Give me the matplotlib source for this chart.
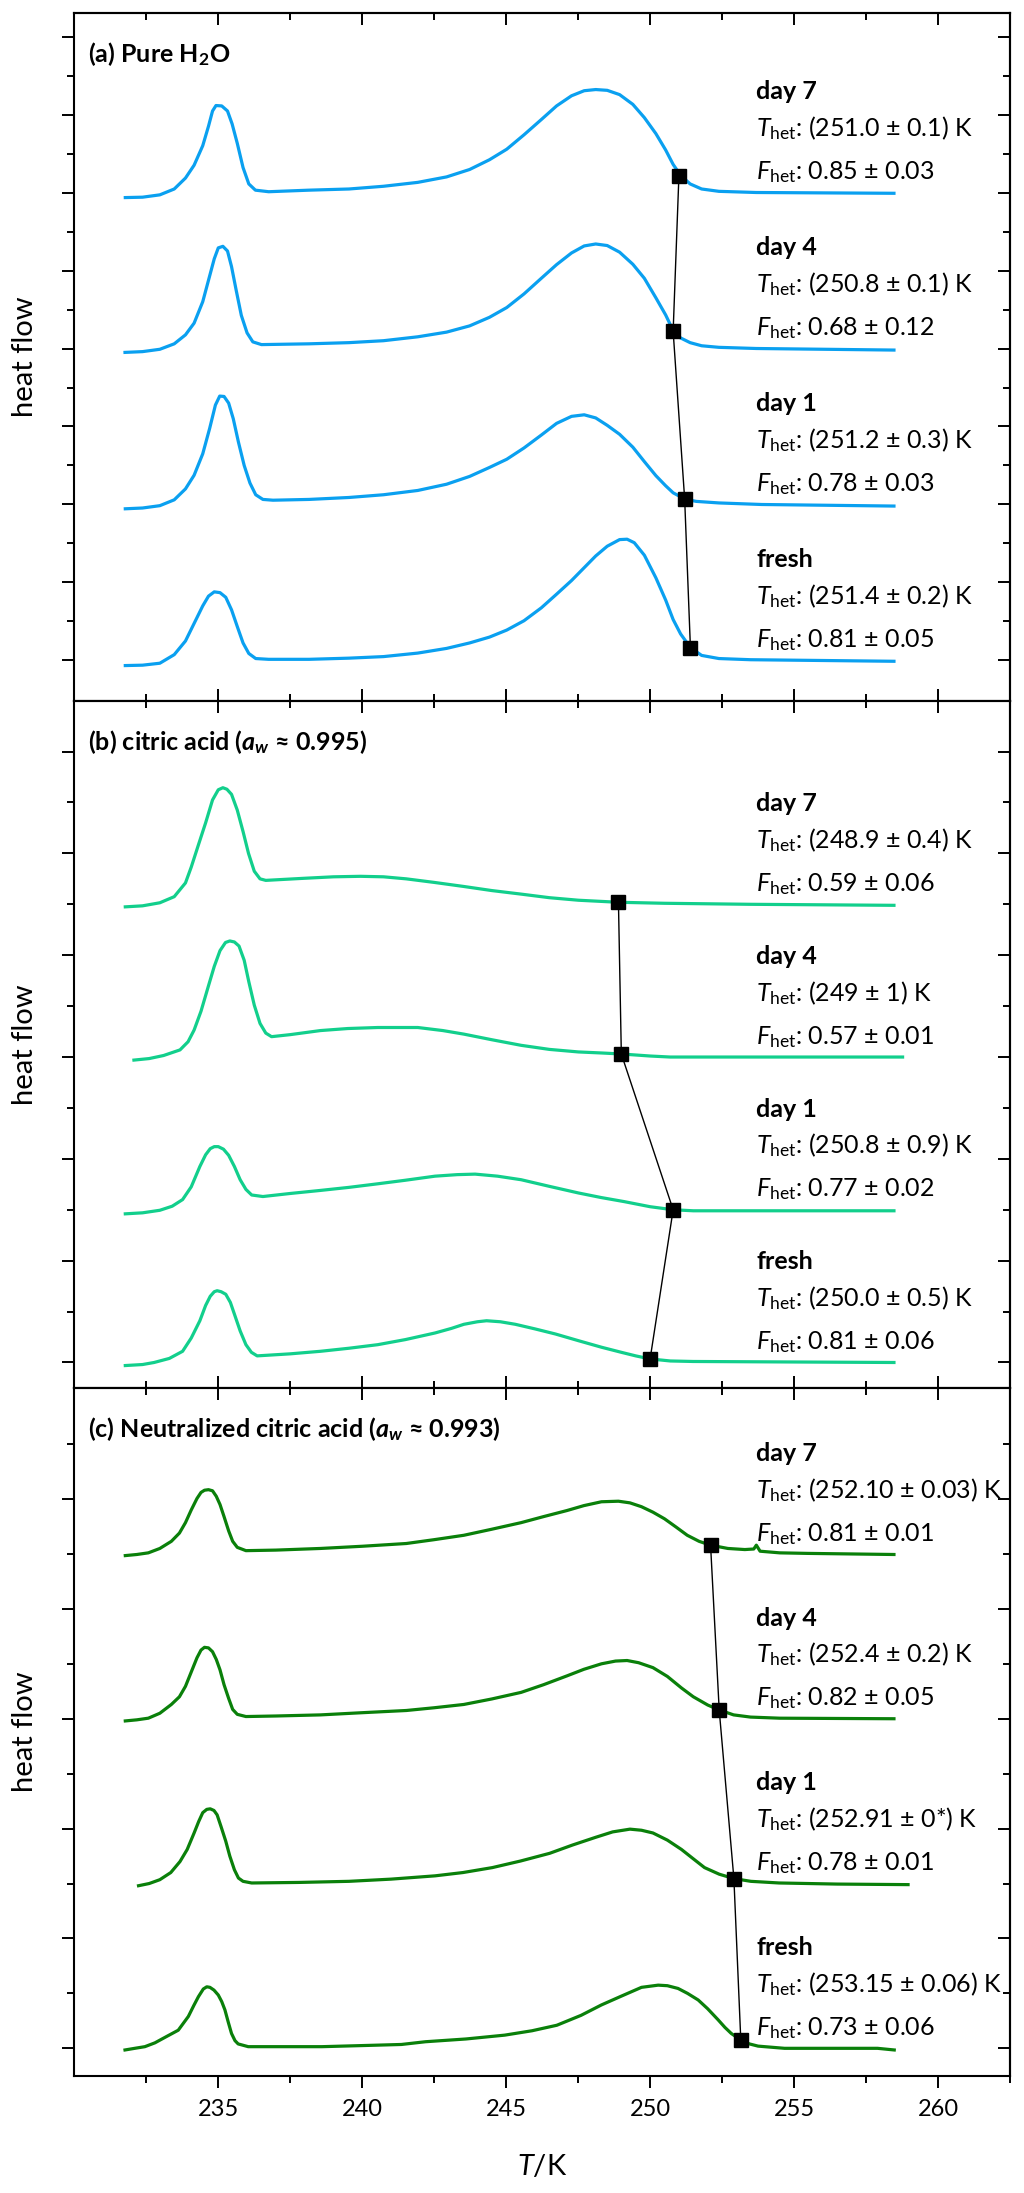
import matplotlib
matplotlib.use('Agg')
import matplotlib.pyplot as plt
from matplotlib.ticker import FixedLocator, NullFormatter

plt.rcParams['font.family'] = ['Lato', 'DejaVu Sans']
plt.rcParams['mathtext.fontset'] = 'custom'
plt.rcParams['mathtext.rm'] = 'Lato'
plt.rcParams['mathtext.it'] = 'Lato:italic'
plt.rcParams['mathtext.bf'] = 'Lato:bold'
plt.rcParams['mathtext.bfit'] = 'Lato:bold:italic'

# ---- data (heat flow in tick units, curves stacked) ----
labels = ['day 7', 'day 4', 'day 1', 'fresh']

# (a) pure water
a7_T = [231.77, 232.37, 232.97, 233.47, 233.86, 234.16, 234.46, 234.66, 234.8, 234.92, 235.12, 235.32,
        235.48, 235.66, 235.86, 236.06, 236.29, 236.75, 238.15, 239.54, 240.74, 241.93, 242.93, 243.73,
        244.42, 245.02, 245.62, 246.22, 246.75, 247.27, 247.71, 248.11, 248.51, 248.94, 249.4, 249.8,
        250.2, 250.54, 250.8, 251.06, 251.39, 251.79, 252.39, 253.69, 258.47]
a7_hf = [11.87, 11.88, 11.94, 12.09, 12.37, 12.7, 13.2, 13.7, 14.09, 14.23, 14.22, 14.09,
         13.76, 13.26, 12.64, 12.22, 12.06, 12.02, 12.06, 12.09, 12.16, 12.26, 12.4, 12.59,
         12.84, 13.11, 13.48, 13.87, 14.22, 14.48, 14.61, 14.64, 14.62, 14.51, 14.26, 13.92,
         13.51, 13.09, 12.72, 12.44, 12.22, 12.09, 12.03, 12.0, 11.98]
a4_T = [231.76, 232.37, 232.97, 233.47, 233.86, 234.16, 234.46, 234.66, 234.86, 235.0, 235.16, 235.32,
        235.46, 235.62, 235.8, 236.0, 236.2, 236.5, 238.15, 239.54, 240.74, 241.93, 242.93, 243.73,
        244.42, 245.02, 245.62, 246.22, 246.75, 247.27, 247.71, 248.11, 248.51, 248.94, 249.4, 249.8,
        250.2, 250.54, 250.8, 251.06, 251.39, 251.79, 252.39, 253.69, 258.47]
a4_hf = [7.9, 7.92, 7.98, 8.12, 8.35, 8.65, 9.2, 9.75, 10.3, 10.58, 10.62, 10.5,
         10.1, 9.5, 8.85, 8.4, 8.17, 8.1, 8.12, 8.15, 8.2, 8.3, 8.42, 8.58,
         8.8, 9.05, 9.4, 9.8, 10.15, 10.45, 10.63, 10.68, 10.64, 10.47, 10.16, 9.8,
         9.3, 8.86, 8.46, 8.27, 8.15, 8.07, 8.03, 8.0, 7.96]
a1_T = [231.77, 232.37, 232.97, 233.47, 233.86, 234.16, 234.46, 234.7, 234.9, 235.05, 235.2, 235.36,
        235.52, 235.7, 235.9, 236.1, 236.3, 236.55, 236.9, 238.15, 239.54, 240.74, 241.93, 242.93,
        243.73, 244.42, 245.02, 245.62, 246.22, 246.75, 247.27, 247.71, 248.11, 248.51, 248.94, 249.4,
        249.8, 250.2, 250.54, 250.8, 251.2, 251.6, 252.39, 253.88, 258.47]
a1_hf = [3.89, 3.91, 3.97, 4.12, 4.4, 4.75, 5.3, 5.95, 6.55, 6.78, 6.77, 6.6,
         6.2, 5.6, 5.0, 4.55, 4.25, 4.13, 4.11, 4.13, 4.18, 4.25, 4.36, 4.52,
         4.72, 4.95, 5.16, 5.45, 5.78, 6.08, 6.26, 6.3, 6.22, 6.03, 5.8, 5.47,
         5.1, 4.74, 4.48, 4.3, 4.14, 4.08, 4.04, 4.0, 3.96]
a0_T = [231.77, 232.37, 232.97, 233.47, 233.86, 234.16, 234.46, 234.66, 234.86, 235.06, 235.26, 235.46,
        235.66, 235.86, 236.06, 236.3, 236.75, 238.15, 239.54, 240.74, 241.93, 242.93, 243.73, 244.42,
        245.02, 245.62, 246.22, 246.75, 247.27, 247.71, 248.11, 248.51, 248.94, 249.2, 249.45, 249.8,
        250.2, 250.54, 250.8, 251.06, 251.4, 251.79, 252.39, 253.49, 258.47]
a0_hf = [-0.13, -0.12, -0.07, 0.15, 0.5, 0.95, 1.4, 1.65, 1.76, 1.74, 1.62, 1.3,
         0.87, 0.45, 0.18, 0.05, 0.03, 0.03, 0.06, 0.1, 0.19, 0.31, 0.45, 0.6,
         0.78, 1.02, 1.35, 1.7, 2.05, 2.38, 2.68, 2.93, 3.1, 3.11, 3.02, 2.7,
         2.12, 1.55, 1.05, 0.68, 0.33, 0.13, 0.05, 0.02, -0.02]
a_Thet = [251.0, 250.8, 251.2, 251.4]
a_mark = [12.42, 8.44, 4.14, 0.33]
a_base = [12, 8, 4, 0]
a_Ttxt = ['(251.0 ± 0.1) K', '(250.8 ± 0.1) K', '(251.2 ± 0.3) K', '(251.4 ± 0.2) K']
a_Ftxt = ['0.85 ± 0.03', '0.68 ± 0.12', '0.78 ± 0.03', '0.81 ± 0.05']

# (b) citric acid
b7_T = [231.77, 232.37, 232.97, 233.47, 233.86, 234.06, 234.3, 234.56, 234.8, 235.0, 235.16, 235.3,
        235.46, 235.66, 235.86, 236.05, 236.25, 236.45, 236.65, 237.95, 239.0, 239.94, 240.74, 241.53,
        242.5, 243.53, 244.5, 245.52, 246.5, 247.51, 248.2, 248.9, 250.5, 253.49, 258.47]
b7_hf = [8.95, 8.97, 9.03, 9.15, 9.42, 9.73, 10.15, 10.6, 11.05, 11.25, 11.29, 11.26,
         11.16, 10.85, 10.43, 10.0, 9.65, 9.5, 9.47, 9.51, 9.54, 9.55, 9.54, 9.5,
         9.43, 9.35, 9.27, 9.2, 9.13, 9.08, 9.06, 9.04, 9.02, 9.0, 8.98]
b4_T = [232.07, 232.6, 233.1, 233.67, 233.95, 234.16, 234.4, 234.66, 234.86, 235.06, 235.25, 235.4,
        235.56, 235.72, 235.9, 236.06, 236.25, 236.45, 236.65, 236.85, 237.5, 238.55, 239.5, 240.54,
        241.93, 242.8, 243.53, 244.5, 245.52, 246.5, 247.51, 248.3, 249.0, 250.0, 250.7, 258.77]
b4_hf = [5.94, 5.97, 6.03, 6.14, 6.3, 6.53, 6.9, 7.4, 7.78, 8.09, 8.25, 8.28,
         8.26, 8.18, 7.9, 7.48, 7.02, 6.66, 6.47, 6.4, 6.44, 6.52, 6.56, 6.58,
         6.58, 6.52, 6.45, 6.34, 6.23, 6.15, 6.1, 6.08, 6.06, 6.02, 6.0, 6.0]
b1_T = [231.77, 232.37, 232.97, 233.4, 233.76, 234.06, 234.36, 234.56, 234.72, 234.86, 235.0, 235.18,
        235.36, 235.56, 235.76, 235.96, 236.16, 236.55, 237.5, 238.55, 239.54, 240.54, 241.5, 242.53,
        243.3, 243.92, 244.7, 245.52, 246.5, 247.51, 248.3, 249.1, 250.0, 250.8, 251.5, 253.49, 258.47]
b1_hf = [2.92, 2.94, 2.99, 3.07, 3.2, 3.45, 3.85, 4.08, 4.2, 4.24, 4.24, 4.19,
         4.07, 3.85, 3.59, 3.4, 3.29, 3.26, 3.32, 3.38, 3.44, 3.51, 3.58, 3.66,
         3.69, 3.7, 3.66, 3.59, 3.46, 3.33, 3.24, 3.16, 3.06, 3.0, 2.98, 2.98, 2.98]
b0_T = [231.77, 232.37, 232.77, 233.3, 233.76, 234.06, 234.36, 234.56, 234.72, 234.86, 234.96, 235.1,
        235.26, 235.42, 235.56, 235.76, 235.96, 236.15, 236.35, 237.5, 238.55, 239.54, 240.54, 241.5,
        242.53, 243.1, 243.53, 244.0, 244.32, 244.8, 245.32, 246.0, 246.71, 247.5, 248.31, 249.0,
        249.5, 250.0, 250.7, 251.49, 258.47]
b0_hf = [-0.06, -0.04, 0.0, 0.08, 0.22, 0.48, 0.82, 1.12, 1.3, 1.39, 1.41, 1.39,
         1.34, 1.18, 0.95, 0.62, 0.35, 0.2, 0.13, 0.17, 0.22, 0.28, 0.35, 0.45,
         0.58, 0.67, 0.75, 0.8, 0.82, 0.8, 0.75, 0.66, 0.56, 0.43, 0.3, 0.2,
         0.13, 0.07, 0.03, 0.02, 0.0]
b_Thet = [248.9, 249.0, 250.8, 250.0]
b_mark = [9.04, 6.06, 3.0, 0.07]
b_base = [9, 6, 3, 0]
b_Ttxt = ['(248.9 ± 0.4) K', '(249 ± 1) K', '(250.8 ± 0.9) K', '(250.0 ± 0.5) K']
b_Ftxt = ['0.59 ± 0.06', '0.57 ± 0.01', '0.77 ± 0.02', '0.81 ± 0.06']

# (c) neutralized citric acid
c7_T = [231.77, 232.17, 232.57, 232.97, 233.37, 233.65, 233.86, 234.06, 234.26, 234.4, 234.52, 234.66,
        234.8, 234.93, 235.06, 235.2, 235.36, 235.5, 235.66, 235.96, 237.0, 238.55, 240.0, 241.53,
        242.5, 243.53, 244.5, 245.52, 246.3, 247.11, 247.7, 248.31, 248.9, 249.3, 249.7, 250.1,
        250.5, 250.9, 251.29, 251.7, 252.1, 252.7, 253.29, 253.6, 253.69, 253.82, 254.5, 255.48, 258.47]
c7_hf = [8.97, 8.99, 9.02, 9.1, 9.23, 9.38, 9.57, 9.8, 10.01, 10.12, 10.16, 10.17,
         10.15, 10.05, 9.9, 9.68, 9.42, 9.23, 9.12, 9.06, 9.07, 9.1, 9.14, 9.19,
         9.26, 9.34, 9.45, 9.57, 9.68, 9.79, 9.88, 9.95, 9.96, 9.93, 9.86, 9.76,
         9.64, 9.49, 9.34, 9.23, 9.16, 9.1, 9.08, 9.09, 9.16, 9.05, 9.02, 9.01, 8.99]
c4_T = [231.77, 232.17, 232.57, 232.97, 233.37, 233.65, 233.86, 234.06, 234.26, 234.4, 234.52, 234.66,
        234.8, 234.93, 235.06, 235.2, 235.36, 235.5, 235.66, 235.96, 237.0, 238.55, 240.0, 241.53,
        242.5, 243.53, 244.5, 245.52, 246.3, 247.11, 247.7, 248.31, 248.8, 249.2, 249.6, 250.1,
        250.6, 251.09, 251.5, 252.0, 252.4, 252.9, 253.49, 254.5, 258.47]
c4_hf = [5.96, 5.98, 6.01, 6.1, 6.26, 6.4, 6.59, 6.85, 7.11, 7.25, 7.3, 7.29,
         7.22, 7.08, 6.89, 6.62, 6.37, 6.17, 6.08, 6.04, 6.05, 6.07, 6.11, 6.15,
         6.2, 6.26, 6.36, 6.48, 6.62, 6.78, 6.9, 7.0, 7.05, 7.06, 7.02, 6.93,
         6.77, 6.56, 6.4, 6.25, 6.16, 6.07, 6.03, 6.01, 6.0]
c1_T = [232.23, 232.6, 232.97, 233.35, 233.67, 233.92, 234.16, 234.32, 234.46, 234.6, 234.72, 234.85,
        234.96, 235.1, 235.26, 235.4, 235.56, 235.7, 235.86, 236.16, 237.8, 239.54, 241.0, 242.53,
        243.5, 244.52, 245.5, 246.51, 247.3, 248.1, 248.7, 249.3, 249.7, 250.1, 250.6, 251.09,
        251.5, 251.89, 252.4, 252.91, 253.5, 254.48, 256.5, 258.96]
c1_hf = [2.96, 3.0, 3.07, 3.2, 3.4, 3.62, 3.92, 4.13, 4.29, 4.35, 4.36, 4.33,
         4.25, 4.03, 3.77, 3.5, 3.25, 3.1, 3.04, 3.01, 3.02, 3.04, 3.08, 3.14,
         3.2, 3.29, 3.41, 3.55, 3.7, 3.84, 3.94, 3.99, 3.97, 3.92, 3.79, 3.62,
         3.45, 3.29, 3.17, 3.09, 3.04, 3.01, 2.99, 2.98]
c0_T = [231.76, 232.1, 232.45, 232.8, 233.15, 233.61, 233.96, 234.15, 234.31, 234.48, 234.6, 234.71,
        234.85, 235.0, 235.12, 235.23, 235.35, 235.46, 235.58, 235.69, 236.04, 238.6, 240.0, 241.36,
        242.2, 243.6, 244.95, 245.9, 246.76, 247.6, 248.31, 249.0, 249.7, 250.28, 250.6, 250.97,
        251.3, 251.67, 252.0, 252.36, 252.6, 252.82, 253.15, 253.45, 253.75, 254.67, 257.9, 258.48]
c0_hf = [-0.03, 0.0, 0.03, 0.1, 0.2, 0.33, 0.58, 0.78, 0.94, 1.08, 1.12, 1.11,
         1.06, 0.97, 0.85, 0.7, 0.47, 0.27, 0.14, 0.08, 0.03, 0.03, 0.05, 0.07,
         0.12, 0.17, 0.24, 0.32, 0.42, 0.6, 0.79, 0.95, 1.11, 1.15, 1.14, 1.09,
         1.0, 0.88, 0.72, 0.52, 0.38, 0.27, 0.15, 0.08, 0.04, 0.0, 0.0, -0.03]
c_Thet = [252.10, 252.4, 252.91, 253.15]
c_mark = [9.16, 6.16, 3.09, 0.15]
c_base = [9, 6, 3, 0]
c_Ttxt = ['(252.10 ± 0.03) K', '(252.4 ± 0.2) K', '(252.91 ± 0*) K', '(253.15 ± 0.06) K']
c_Ftxt = ['0.81 ± 0.01', '0.82 ± 0.05', '0.78 ± 0.01', '0.73 ± 0.06']

x_major = [235, 240, 245, 250, 255, 260]
x_minor = [232.5, 237.5, 242.5, 247.5, 252.5, 257.5, 262.5]

FS = 18


def draw_panel(ax, curves, Thet, mark, base, Ttxt, Ftxt, color, title, ylim, nticks, last):
    for T, hf in curves:
        ax.plot(T, hf, color=color, lw=2.3, solid_joinstyle='round')
    ax.plot(Thet, mark, color='black', lw=1.0, zorder=3)
    ax.plot(Thet, mark, 's', color='black', ms=10.5, zorder=4)

    # annotations sit at a fixed pixel offset above each curve's baseline
    for lab, tt, ft, b in zip(labels, Ttxt, Ftxt, base):
        ax.annotate(lab, xy=(253.68, b), xytext=(0, 67), textcoords='offset points',
                    fontsize=FS, fontweight='bold', va='baseline', ha='left')
        ax.annotate(r'$T_\mathrm{het}$: ' + tt, xy=(253.68, b), xytext=(0, 40.5),
                    textcoords='offset points', fontsize=FS, va='baseline', ha='left')
        ax.annotate(r'$F_\mathrm{het}$: ' + ft, xy=(253.68, b), xytext=(0, 9.5),
                    textcoords='offset points', fontsize=FS, va='baseline', ha='left')

    ax.text(0.0142, 0.94, title, transform=ax.transAxes, fontsize=18,
            fontweight='bold', va='center', ha='left')

    ax.set_xlim(230.0, 262.5)
    ax.set_ylim(*ylim)

    ymaj = [v for v in range(nticks + 1) if v % 2 == 0]
    ymin = [v for v in range(nticks + 1) if v % 2 == 1]
    ax.yaxis.set_major_locator(FixedLocator(ymaj))
    ax.yaxis.set_minor_locator(FixedLocator(ymin))
    ax.yaxis.set_major_formatter(NullFormatter())
    ax.xaxis.set_major_locator(FixedLocator(x_major))
    ax.xaxis.set_minor_locator(FixedLocator(x_minor))

    ax.tick_params(axis='y', which='both', direction='out', width=1.4, left=True, right=False)
    ax.tick_params(axis='y', which='major', length=8.5)
    ax.tick_params(axis='y', which='minor', length=5)
    ax.tick_params(axis='x', which='both', direction='out' if last else 'in', width=1.4,
                   bottom=True, top=False, labelsize=17, pad=8)
    ax.tick_params(axis='x', which='major', length=8.5)
    ax.tick_params(axis='x', which='minor', length=5)
    if not last:
        ax.xaxis.set_major_formatter(NullFormatter())

    # top / right axes carry inward ticks only
    top = ax.secondary_xaxis('top')
    top.xaxis.set_major_locator(FixedLocator(x_major))
    top.xaxis.set_minor_locator(FixedLocator(x_minor))
    top.xaxis.set_major_formatter(NullFormatter())
    top.tick_params(axis='x', which='both', direction='in', width=1.4)
    top.tick_params(axis='x', which='major', length=8.5)
    top.tick_params(axis='x', which='minor', length=5)

    right = ax.secondary_yaxis('right')
    right.yaxis.set_major_locator(FixedLocator(ymaj))
    right.yaxis.set_minor_locator(FixedLocator(ymin))
    right.yaxis.set_major_formatter(NullFormatter())
    right.tick_params(axis='y', which='both', direction='in', width=1.4)
    right.tick_params(axis='y', which='major', length=8.5)
    right.tick_params(axis='y', which='minor', length=5)

    for sp in list(ax.spines.values()) + [top.spines['top'], right.spines['right']]:
        sp.set_linewidth(1.5)

    yl = ax.set_ylabel('heat flow', fontsize=21)
    yl.set_va('center')
    ax.yaxis.set_label_coords(-0.0527, 0.5)


fig = plt.figure(figsize=(10.24, 21.93), dpi=100)
L, W = 0.0726, 0.9137
ax_a = fig.add_axes([L, 0.6805, W, 0.3137])
ax_b = fig.add_axes([L, 0.3671, W, 0.3134])
ax_c = fig.add_axes([L, 0.05335, W, 0.3137])

draw_panel(ax_a, [(a7_T, a7_hf), (a4_T, a4_hf), (a1_T, a1_hf), (a0_T, a0_hf)],
           a_Thet, a_mark, a_base, a_Ttxt, a_Ftxt, '#0aa0f0',
           r'(a) Pure H$_\mathbf{2}$O', (-1.03, 16.61), 16, False)
draw_panel(ax_b, [(b7_T, b7_hf), (b4_T, b4_hf), (b1_T, b1_hf), (b0_T, b0_hf)],
           b_Thet, b_mark, b_base, b_Ttxt, b_Ftxt, '#12cf8c',
           r'(b) citric acid ($\mathbfit{a}_\mathbfit{w}$ ≈ 0.995)', (-0.50, 13.0), 12, False)
draw_panel(ax_c, [(c7_T, c7_hf), (c4_T, c4_hf), (c1_T, c1_hf), (c0_T, c0_hf)],
           c_Thet, c_mark, c_base, c_Ttxt, c_Ftxt, '#0a800a',
           r'(c) Neutralized citric acid ($\mathbfit{a}_\mathbfit{w}$ ≈ 0.993)', (-0.504, 12.02), 11, True)

xl = ax_c.set_xlabel(r'$T$/K', fontsize=21)
ax_c.xaxis.set_label_coords(0.5, -91 / 688)
xl.set_va('center')

fig.savefig('out.png', dpi=100)
